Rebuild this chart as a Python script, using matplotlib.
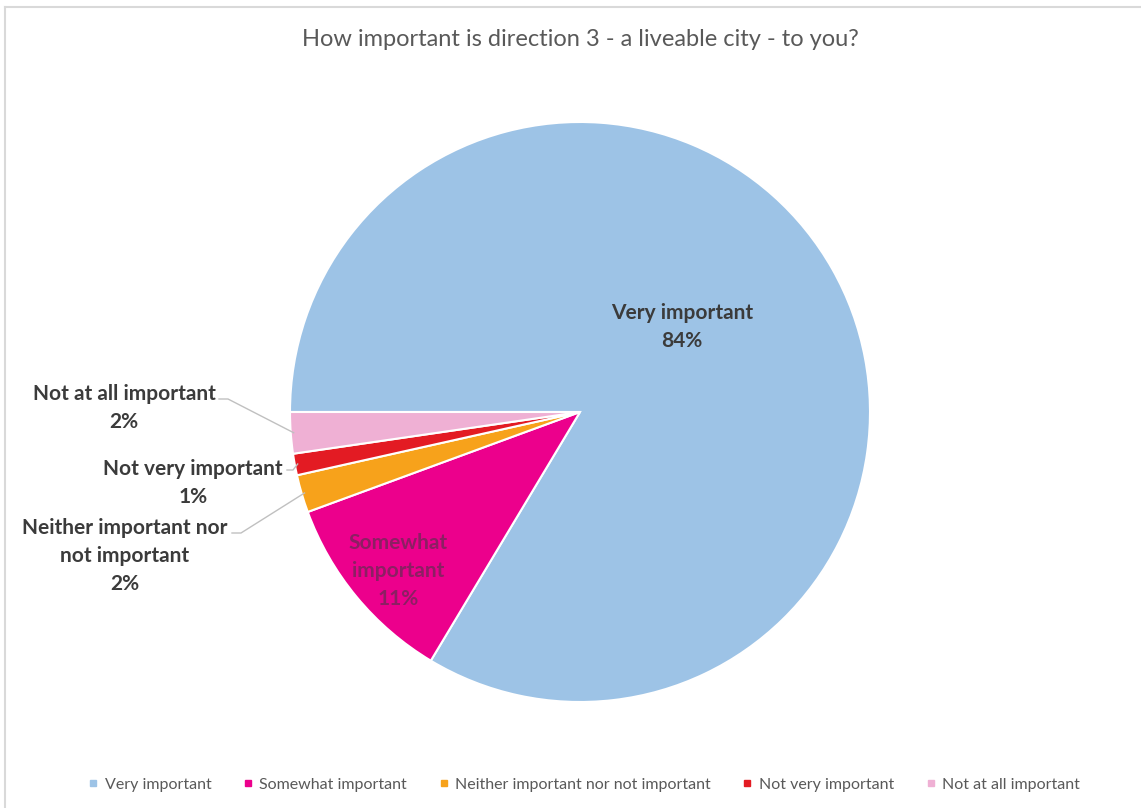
import matplotlib.pyplot as plt
from matplotlib.lines import Line2D
import numpy as np

plt.rcParams["font.family"] = ["Lato", "DejaVu Sans"]

title = "How important is direction 3 - a liveable city - to you?"
categories = [
    "Very important",
    "Somewhat important",
    "Neither important nor not important",
    "Not very important",
    "Not at all important",
]
# share of responses (%)
shares = [83.6, 10.8, 2.1, 1.2, 2.3]
colors = ["#9dc3e6", "#ec008c", "#f7a21b", "#e31b23", "#efb0d4"]

W, H = 1141, 808
CX, CY, R = 580, 412, 290


def px(x, y):
    """pixel position on the canvas -> pie data coords"""
    return (x - CX) / R, (CY - y) / R


fig = plt.figure(figsize=(W / 100, H / 100), dpi=100)
ax = fig.add_axes([(CX - R) / W, 1 - (CY + R) / H, 2 * R / W, 2 * R / H])

wedges, _ = ax.pie(
    shares,
    colors=colors,
    startangle=180,
    counterclock=False,
    wedgeprops=dict(edgecolor="white", linewidth=1.5),
)
ax.set_xlim(-1, 1)
ax.set_ylim(-1, 1)
ax.set_aspect("equal")
ax.axis("off")

label_kw = dict(fontsize=15, fontweight="bold", ha="center", va="center",
                linespacing=1.5)

# labels inside the two big slices
ax.text(*px(682, 327), f"{categories[0]}\n{shares[0]:.0f}%", color="#3b3b3b", **label_kw)
ax.text(*px(398, 571), f"Somewhat\nimportant\n{shares[1]:.0f}%", color="#8c1f63", **label_kw)

# small slices: label outside with a leader line to the wedge
outside = {
    4: dict(pos=px(124, 408), text="Not at all important", start=px(219, 399), knee=px(228, 399)),
    3: dict(pos=px(193, 483), text="Not very important", start=px(287, 470), knee=px(293, 470)),
    2: dict(pos=px(125, 556), text="Neither important nor\nnot important", start=px(232, 533), knee=px(241, 533)),
}
for i, spec in outside.items():
    w = wedges[i]
    mid = np.deg2rad((w.theta1 + w.theta2) / 2)
    edge = (np.cos(mid) * 0.99, np.sin(mid) * 0.99)
    ax.text(*spec["pos"], f"{spec['text']}\n{shares[i]:.0f}%", color="#3b3b3b", **label_kw)
    xs = [spec["start"][0], spec["knee"][0], edge[0]]
    ys = [spec["start"][1], spec["knee"][1], edge[1]]
    ax.plot(xs, ys, color="#c0c0c0", lw=1, clip_on=False)

fig.text(0.5083, 1 - 40 / H, title, fontsize=17, color="#595959", ha="center", va="center")

handles = [Line2D([], [], marker="s", ls="", color=c, markersize=5) for c in colors]
fig.legend(handles, categories, loc="center", bbox_to_anchor=(0.512, 1 - 785 / H),
           ncol=5, frameon=False, fontsize=11.5, labelcolor="#595959",
           handlelength=0.6, handletextpad=0.4, columnspacing=2.0)

# chart area border
fig.add_artist(Line2D([5 / W, 1], [1 - 7 / H, 1 - 7 / H], color="#d9d9d9", lw=1.5))
fig.add_artist(Line2D([5 / W, 5 / W], [1 - 7 / H, 0], color="#d9d9d9", lw=1.5))

fig.savefig("out.png", dpi=100, facecolor="white")
